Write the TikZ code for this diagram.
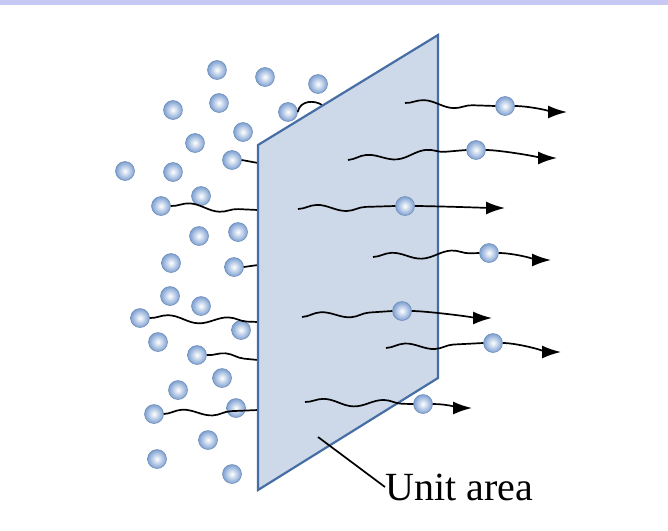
\documentclass[tikz,border=0pt]{standalone}
\usepackage{fontspec}
\setmainfont{Liberation Serif}
\usetikzlibrary{decorations.pathmorphing,arrows.meta}
\definecolor{plane}{RGB}{205,216,232}
\definecolor{edge}{RGB}{70,110,165}
\definecolor{ballc}{RGB}{125,160,210}
\definecolor{bar}{RGB}{200,200,245}
\begin{document}
\begin{tikzpicture}[x=1pt,y=-1pt,
 ball/.style={circle,minimum size=19pt,inner sep=0pt,inner color=white,outer color=ballc,draw=ballc!85!black,line width=0.5pt},
 wave/.style={line width=1.7pt,decorate,decoration={snake,amplitude=3.5pt,segment length=60pt}},
 arr/.style={line width=1.7pt,-{Latex[length=19pt,width=13pt]}}]
\useasboundingbox (0,0) rectangle (668,530);
\fill[bar] (0,0) rectangle (668,5);
\foreach \n/\x/\y in {l1/217/70,l2/265/77,l3/318/84,l4/173/110,l5/219/103,l6/288/112,l7/243/132,l8/195/143,l9/232/160,l10/125/171,l11/173/172,l12/201/196,l13/161/206,l14/238/232,l15/199/236,l16/171/263,l17/234/267,l18/170/296,l19/201/306,l20/140/318,l21/241/330,l22/158/342,l23/197/355,l24/222/378,l25/178/390,l26/154/414,l27/236/408,l28/208/440,l29/157/459,l30/232/474}
  \node[ball] (\n) at (\x,\y) {};
\coordinate (e6) at (322,105);
\coordinate (e9) at (258,163);
\coordinate (e13) at (258,210);
\coordinate (e17) at (258,265);
\coordinate (e20) at (258,322);
\coordinate (e23) at (258,360);
\coordinate (e26) at (258,410);
\draw[line width=1.7pt] (l6.east) .. controls (300,100) and (315,100) .. (e6);
\draw[line width=1.7pt] (l9.east) -- (e9);
\draw[wave] (l13.east) -- (e13);
\draw[line width=1.7pt] (l17.east) -- (e17);
\draw[wave] (l20.east) -- (e20);
\draw[wave] (l23.east) -- (e23);
\draw[wave] (l26.east) -- (e26);
\filldraw[fill=plane,draw=edge,line width=2.2pt] (258,145) -- (438,35) -- (438,378) -- (258,490) -- cycle;
\foreach \n/\sx/\sy/\bx/\by/\ax/\ay in {r1/405/103/505/106/567/112, r2/348/160/476/150/557/158, r3/298/209/405/206/505/208, r4/373/257/489/253/551/260, r5/302/317/402/311/492/318, r6/386/348/493/343/561/352, r7/305/402/423/404/472/408}{
  \coordinate (\n s) at (\sx,\sy);
  \coordinate (\n a) at (\ax,\ay);
  \node[ball] (\n) at (\bx,\by) {};
  \draw[wave] (\n s) -- (\n.west);
  \draw[arr] (\n.east) .. controls +(15,0) and +(-10,0) .. (\n a);
}
\coordinate (lt) at (318,437);
\node[anchor=west,font=\fontsize{40}{42}\selectfont,inner sep=0pt] (lab) at (385,487) {Unit area};
\draw[line width=1.7pt] (lt) -- (lab.west);
\end{tikzpicture}
\end{document}
